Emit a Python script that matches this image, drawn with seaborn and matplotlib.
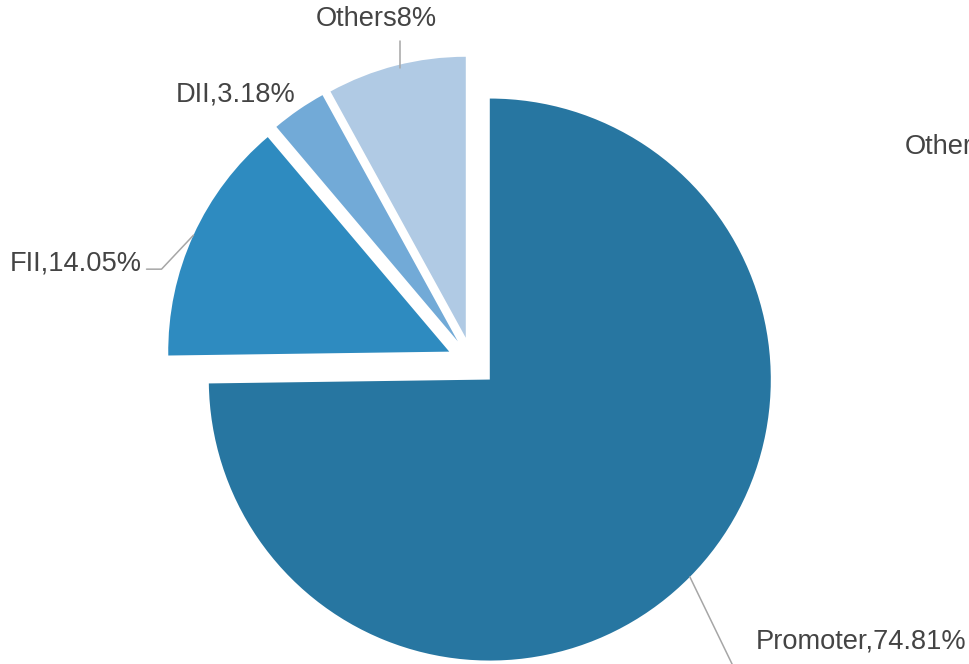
import numpy as np
import matplotlib
matplotlib.use("Agg")
import matplotlib.pyplot as plt
import seaborn as sns

# ---- data ----
categories = ["Promoter", "FII", "DII", "Others"]
values = [74.81, 14.05, 3.18, 8]
label_texts = ["Promoter,74.81%", "FII,14.05%", "DII,3.18%", "Others8%"]
legend_text = "Others"

colors = ["#2776A1", "#2E8BC0", "#72AAD7", "#B0CAE4"]

sns.set_theme(style="white")
plt.rcParams["font.family"] = ["Liberation Sans", "DejaVu Sans"]

fig = plt.figure(figsize=(9.7, 6.64), dpi=100)
ax = fig.add_axes([0, 0, 1, 1])

# explode is in data units (pixels here)
wedges, _ = ax.pie(values, colors=colors, startangle=90, counterclock=False,
                   explode=[25] * 4, radius=281, center=(472, 302),
                   wedgeprops=dict(linewidth=0), normalize=True)

ax.set_xlim(0, 970)
ax.set_ylim(0, 664)
ax.set_aspect("equal")
ax.axis("off")

text_color = "#444444"
line_color = "#A6A6A6"
fs = 19.6

# label styles: connector path (relative), text offset, alignment
styles = {
    "Promoter": dict(path=[(0, 0), (46, -95)], txt=(66, -65), ha="left"),
    "FII": dict(path=[(0, 0), (-32, -34), (-47, -34)], txt=(-52, -28), ha="right"),
    "DII": dict(path=None, txt=(-3, 15), ha="right"),
    "Others": dict(path=[(4, -2), (4, 25)], txt=(-20, 47), ha="center"),
}

for w, cat, lab in zip(wedges, categories, label_texts):
    ang = np.deg2rad((w.theta1 + w.theta2) / 2)
    ex = w.center[0] + w.r * np.cos(ang)
    ey = w.center[1] + w.r * np.sin(ang)
    st = styles[cat]
    if st["path"]:
        xs = [ex + p[0] for p in st["path"]]
        ys = [ey + p[1] for p in st["path"]]
        ax.plot(xs, ys, color=line_color, lw=1.1, clip_on=False, zorder=1)
    ax.text(ex + st["txt"][0], ey + st["txt"][1], lab, ha=st["ha"], va="center",
            fontsize=fs, color=text_color)

# clipped legend entry at the right edge
ax.text(905, 664 - 147, legend_text, ha="left", va="center", fontsize=fs,
        color=text_color, clip_on=False)

fig.savefig("out.png", dpi=100)
